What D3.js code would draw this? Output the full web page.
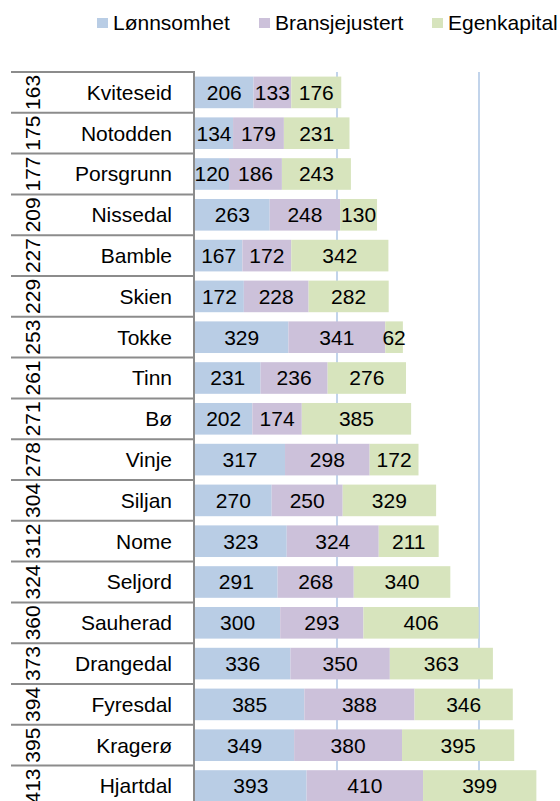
<!DOCTYPE html>
<html>
<head>
<meta charset="utf-8">
<script src="https://cdn.jsdelivr.net/npm/d3@7"></script>
<style>
  body { margin: 0; background: #fff; }
  svg { display: block; font-family: "Liberation Sans", Arial, sans-serif; }
</style>
</head>
<body>
<div id="chart"></div>
<script>
// rows, top to bottom
const kommuner = ["Kviteseid", "Notodden", "Porsgrunn", "Nissedal", "Bamble", "Skien", "Tokke", "Tinn", "Bø",
	"Vinje", "Siljan", "Nome", "Seljord", "Sauherad", "Drangedal", "Fyresdal", "Kragerø", "Hjartdal"];
const rangering = [163, 175, 177, 209, 227, 229, 253, 261, 271, 278, 304, 312, 324, 360, 373, 394, 395, 413];
const lonnsomhet = [206, 134, 120, 263, 167, 172, 329, 231, 202, 317, 270, 323, 291, 300, 336, 385, 349, 393];
const bransjejustert = [133, 179, 186, 248, 172, 228, 341, 236, 174, 298, 250, 324, 268, 293, 350, 388, 380, 410];
const egenkapital = [176, 231, 243, 130, 342, 282, 62, 276, 385, 172, 329, 211, 340, 406, 363, 346, 395, 399];
const seriesNames = ["Lønnsomhet", "Bransjejustert", "Egenkapital"];
const gridTicks = [500, 1000];

const colors = ["#b9cde5", "#ccc1da", "#d7e4bd"];
const width = 560, height = 801;

let rows = kommuner.map((k, i) => ({
	name: k, rank: rangering[i],
	"Lønnsomhet": lonnsomhet[i], "Bransjejustert": bransjejustert[i], "Egenkapital": egenkapital[i]
}));

let stacked = d3.stack().keys(seriesNames)(rows);

let svg = d3.select("#chart").append("svg")
	.attr("width", width)
	.attr("height", height);

// scales
let xScale = d3.scaleLinear().domain([0, 1000]).range([195, 479]);
let step = 40.8, plotTop = 72;
let yScale = d3.scaleBand()
	.domain(kommuner)
	.range([plotTop, plotTop + step * kommuner.length])
	.paddingInner(0.225)
	.paddingOuter(0.1125);

// gridlines (behind bars)
svg.append("g").selectAll("line")
	.data(gridTicks)
	.enter().append("line")
	.attr("x1", d => xScale(d)).attr("x2", d => xScale(d))
	.attr("y1", plotTop).attr("y2", height)
	.attr("stroke", "#aec6e4")
	.attr("stroke-width", 1.5);

// bars
let layer = svg.append("g").selectAll("g")
	.data(stacked)
	.enter().append("g")
	.attr("fill", (d, i) => colors[i]);

layer.selectAll("rect")
	.data(d => d)
	.enter().append("rect")
	.attr("x", d => xScale(d[0]))
	.attr("width", d => xScale(d[1]) - xScale(d[0]))
	.attr("y", d => yScale(d.data.name))
	.attr("height", yScale.bandwidth());

// value labels
layer.selectAll("text")
	.data(d => d)
	.enter().append("text")
	.attr("x", d => (xScale(d[0]) + xScale(d[1])) / 2)
	.attr("y", d => yScale(d.data.name) + yScale.bandwidth() / 2)
	.attr("dy", "0.35em")
	.attr("text-anchor", "middle")
	.attr("fill", "#000")
	.style("font-size", "21px")
	.text(d => d[1] - d[0]);

// left table
let table = svg.append("g");
let bounds = d3.range(kommuner.length + 1).map(i => plotTop + i * step);
table.selectAll("line.h")
	.data(bounds)
	.enter().append("line")
	.attr("class", "h")
	.attr("x1", 11).attr("x2", 195)
	.attr("y1", d => d).attr("y2", d => d)
	.attr("stroke", "#8c8c8c")
	.attr("stroke-width", 2);
table.append("line")
	.attr("x1", 194).attr("x2", 194)
	.attr("y1", plotTop - 1).attr("y2", height)
	.attr("stroke", "#8c8c8c")
	.attr("stroke-width", 2);

table.selectAll("text.name")
	.data(rows)
	.enter().append("text")
	.attr("class", "name")
	.attr("x", 172)
	.attr("y", d => yScale(d.name) + yScale.bandwidth() / 2)
	.attr("dy", "0.35em")
	.attr("text-anchor", "end")
	.style("font-size", "21px")
	.text(d => d.name);

table.selectAll("text.rank")
	.data(rows)
	.enter().append("text")
	.attr("class", "rank")
	.attr("transform", d => "translate(33," + (yScale(d.name) + yScale.bandwidth() / 2) + ") rotate(-90)")
	.attr("dy", "0.35em")
	.attr("text-anchor", "middle")
	.style("font-size", "21px")
	.text(d => d.rank);

// legend
let legendX = [97, 259, 432];
let legend = svg.append("g").selectAll("g")
	.data(seriesNames)
	.enter().append("g")
	.attr("transform", (d, i) => "translate(" + legendX[i] + ",0)");
legend.append("rect")
	.attr("x", 0).attr("y", 18)
	.attr("width", 11).attr("height", 10)
	.attr("fill", (d, i) => colors[i]);
legend.append("text")
	.attr("x", 16).attr("y", 30)
	.style("font-size", "21px")
	.text(d => d);
</script>
</body>
</html>
